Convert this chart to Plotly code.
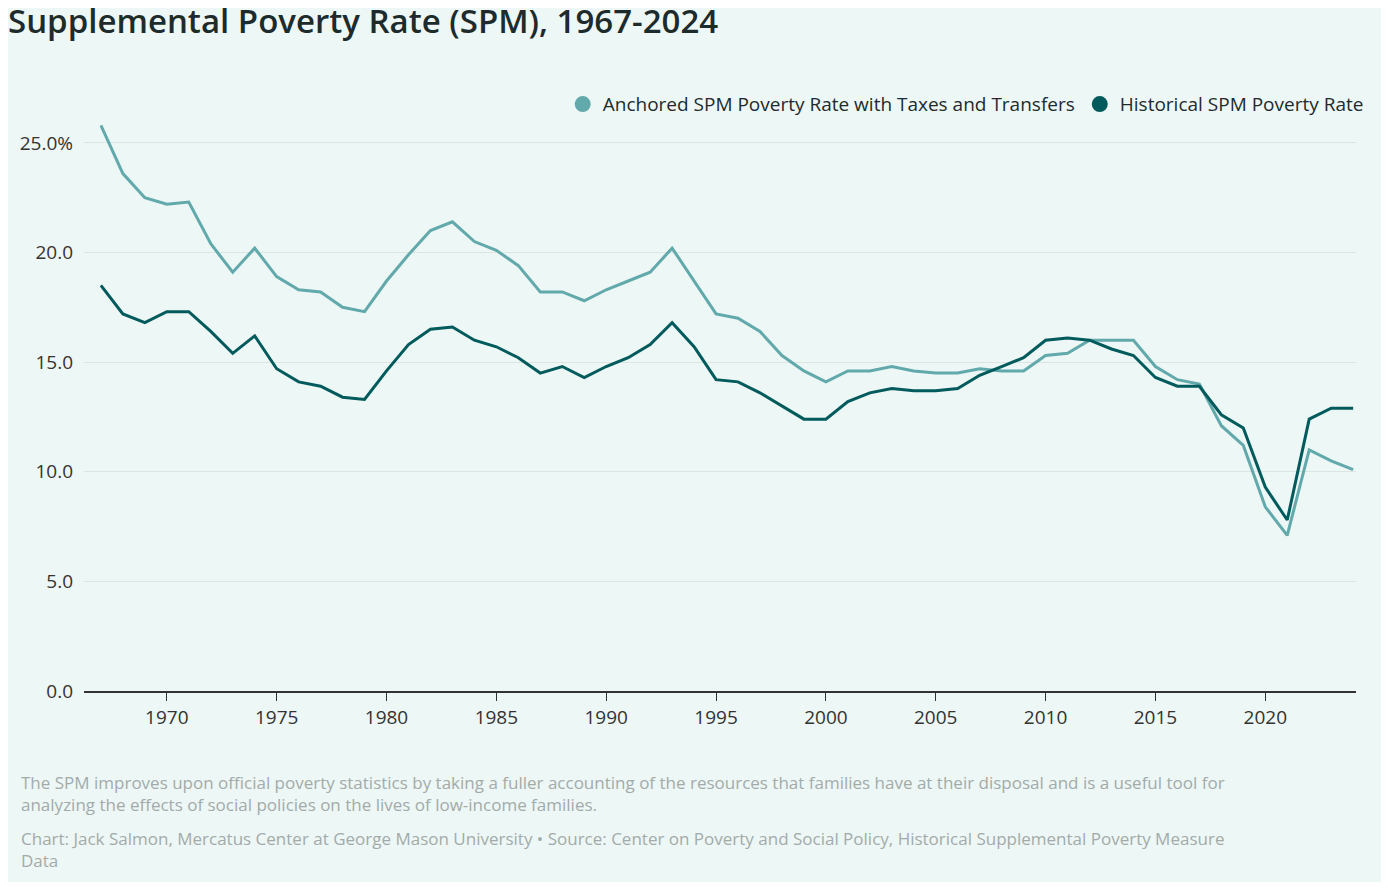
import plotly.graph_objects as go

years = list(range(1967, 2025))
anchored = [25.8, 23.6, 22.5, 22.2, 22.3, 20.4, 19.1, 20.2, 18.9, 18.3, 18.2, 17.5, 17.3,
            18.7, 19.9, 21.0, 21.4, 20.5, 20.1, 19.4, 18.2, 18.2, 17.8,
            18.3, 18.7, 19.1, 20.2, 18.7, 17.2, 17.0, 16.4, 15.3, 14.6,
            14.1, 14.6, 14.6, 14.8, 14.6, 14.5, 14.5, 14.7, 14.6, 14.6,
            15.3, 15.4, 16.0, 16.0, 16.0, 14.8, 14.2, 14.0, 12.1, 11.2,
            8.4, 7.1, 11.0, 10.5, 10.1]
historical = [18.5, 17.2, 16.8, 17.3, 17.3, 16.4, 15.4, 16.2, 14.7, 14.1, 13.9, 13.4, 13.3,
              14.6, 15.8, 16.5, 16.6, 16.0, 15.7, 15.2, 14.5, 14.8, 14.3,
              14.8, 15.2, 15.8, 16.8, 15.7, 14.2, 14.1, 13.6, 13.0, 12.4,
              12.4, 13.2, 13.6, 13.8, 13.7, 13.7, 13.8, 14.4, 14.8, 15.2,
              16.0, 16.1, 16.0, 15.6, 15.3, 14.3, 13.9, 13.9, 12.6, 12.0,
              9.3, 7.8, 12.4, 12.9, 12.9]
ytick_vals = [0, 5, 10, 15, 20, 25]
ytick_text = ["0.0", "5.0", "10.0", "15.0", "20.0", "25.0%"]
names = ["Anchored SPM Poverty Rate with Taxes and Transfers", "Historical SPM Poverty Rate"]

light = "#62a9ac"
dark = "#015a5c"
bg = "#edf7f5"
font = "Open Sans"

fig = go.Figure()
for name, vals, col in [(names[0], anchored, light), (names[1], historical, dark)]:
    fig.add_trace(go.Scatter(x=years, y=vals, mode="lines", name=name, showlegend=False,
                             line=dict(color=col, width=3)))
    # circle swatch for the legend
    fig.add_trace(go.Scatter(x=[None], y=[None], mode="markers", name=name,
                             marker=dict(color=col, size=22, symbol="circle")))

fig.update_layout(
    width=1373, height=874,
    paper_bgcolor=bg, plot_bgcolor=bg,
    margin=dict(l=70, r=16, t=102, b=191),
    font=dict(family=font, color="#333", size=19),
    title=dict(text="Supplemental Poverty Rate (SPM), 1967-2024", x=0.0, xanchor="left",
               y=0.985, yanchor="middle", font=dict(size=33, color="#1e2b2c", weight=600)),
    legend=dict(orientation="h", x=1.01, xanchor="right", y=1.01, yanchor="middle",
                font=dict(size=19, color="#1e2b2c"), bgcolor="rgba(0,0,0,0)"),
)
fig.update_xaxes(range=[1966.23, 2024.13], tickvals=list(range(1970, 2021, 5)),
                 showgrid=False, showline=True, linecolor="#333", linewidth=2,
                 ticks="outside", tickcolor="#333", ticklen=8, tickfont=dict(size=19, color="#333"))
fig.update_yaxes(range=[0, 26.5], tickvals=ytick_vals, ticktext=ytick_text,
                 gridcolor="#dde5e3", gridwidth=1, zeroline=False, ticks="", ticklabelstandoff=10,
                 tickfont=dict(size=19, color="#333"))

fig.add_annotation(xref="paper", yref="paper", x=-0.051, y=-0.135, xanchor="left", yanchor="top",
                   align="left", showarrow=False, font=dict(size=17, color="#a3abaa"),
                   text="The SPM improves upon official poverty statistics by taking a fuller accounting of the resources that families have at their disposal and is a useful tool for<br>analyzing the effects of social policies on the lives of low-income families.")
fig.add_annotation(xref="paper", yref="paper", x=-0.051, y=-0.23, xanchor="left", yanchor="top",
                   align="left", showarrow=False, font=dict(size=17, color="#a3abaa"),
                   text="Chart: Jack Salmon, Mercatus Center at George Mason University • Source: Center on Poverty and Social Policy, Historical Supplemental Poverty Measure<br>Data")

fig.write_html("out.html")
